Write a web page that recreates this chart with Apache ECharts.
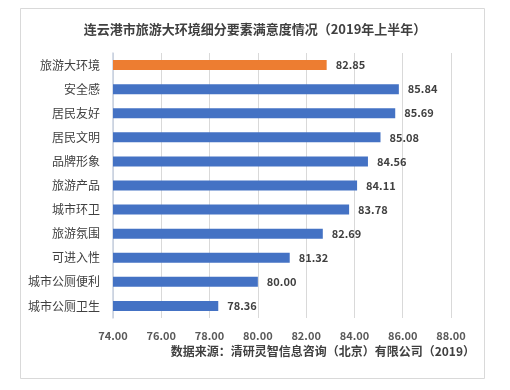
<!DOCTYPE html>
<html><head><meta charset="utf-8">
<script src="https://cdn.jsdelivr.net/npm/echarts@6/dist/echarts.min.js"></script>
<style>html,body{margin:0;padding:0;background:#fff}#c{width:510px;height:390px}</style>
</head><body><div id="c"></div>
<script>
var categories = ['旅游大环境','安全感','居民友好','居民文明','品牌形象','旅游产品','城市环卫','旅游氛围','可进入性','城市公厕便利','城市公厕卫生'];
var values = [82.85, 85.84, 85.69, 85.08, 84.56, 84.11, 83.78, 82.69, 81.32, 80.00, 78.36];
var highlightIndex = 0;
var FONT = '"Noto Sans CJK SC", sans-serif';
var chart = echarts.init(document.getElementById('c'));
chart.setOption({
  animation: false,
  backgroundColor: '#fff',
  title: {
    text: '连云港市旅游大环境细分要素满意度情况（2019年上半年）',
    left: 250, top: 18, textAlign: 'center',
    textStyle: {fontFamily: FONT, fontSize: 13, fontWeight: 'bold', color: '#404040'}
  },
  graphic: [
    {type: 'rect', shape: {x: 20.5, y: 8.5, width: 464, height: 370}, style: {fill: 'none', stroke: '#d9d9d9', lineWidth: 1}, z: -1},
    {type: 'text', right: 35, top: 345, style: {text: '数据来源：清研灵智信息咨询（北京）有限公司（2019）', fontFamily: FONT, fontSize: 12, fontWeight: 'bold', fill: '#404040'}}
  ],
  grid: {left: 113, right: 59, top: 53, bottom: 72},
  xAxis: {
    type: 'value', min: 74, max: 88, interval: 2,
    axisLine: {show: false}, axisTick: {show: false},
    splitLine: {lineStyle: {color: '#d9d9d9'}},
    axisLabel: {formatter: function(v){return v.toFixed(2);}, fontFamily: FONT, fontSize: 11, fontWeight: 'bold', color: '#595959', margin: 12}
  },
  yAxis: {
    type: 'category', data: categories, inverse: true,
    axisLine: {show: true, lineStyle: {color: '#c7d0e0', width: 1.5}},
    axisTick: {show: false},
    axisLabel: {fontFamily: FONT, fontSize: 12, color: '#404040', margin: 13}
  },
  series: [{
    type: 'bar', barWidth: 10,
    data: values.map(function(v, i){ return {value: v, itemStyle: {color: i === highlightIndex ? '#ED7D31' : '#4472C4'}}; }),
    label: {show: true, position: 'right', distance: 9, formatter: function(p){return p.value.toFixed(2);}, fontFamily: FONT, fontSize: 11, fontWeight: 'bold', color: '#404040'}
  }]
});
</script></body></html>
